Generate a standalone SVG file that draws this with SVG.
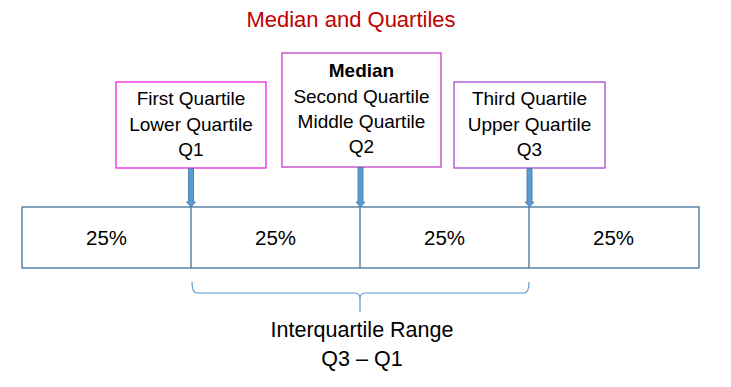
<svg xmlns="http://www.w3.org/2000/svg" width="731" height="387" viewBox="0 0 731 387">
<style>
  text { font-family: "Liberation Sans", Arial, sans-serif; fill: #000; text-anchor: middle; }
  .box { fill: #fff; stroke-width: 1.3; }
  .lbl { font-size: 19px; }
  .pct { font-size: 20.5px; }
  .iqr { font-size: 21.5px; }
  .bar { fill: #fff; stroke: #41719C; stroke-width: 1.3; }
  .arrow { fill: #5B9BD5; stroke: #41719C; stroke-width: 0.8; }
  .brace { fill: none; stroke: #5B9BD5; stroke-width: 1.2; }
</style>
<rect width="731" height="387" fill="#fff"/>
<text x="351" y="27" style="font-size:22px; fill:#C00000">Median and Quartiles</text>

<g id="bar">
  <rect class="bar" x="22" y="207" width="677" height="61"/>
  <line class="bar" x1="191" y1="207" x2="191" y2="268"/>
  <line class="bar" x1="360" y1="207" x2="360" y2="268"/>
  <line class="bar" x1="529" y1="207" x2="529" y2="268"/>
  <text class="pct" x="106.5" y="245">25%</text>
  <text class="pct" x="275.5" y="245">25%</text>
  <text class="pct" x="444.5" y="245">25%</text>
  <text class="pct" x="613.5" y="245">25%</text>
</g>

<g id="q1">
  <rect class="box" x="116" y="82" width="150" height="86" stroke="#EE22DD"/>
  <text class="lbl" x="191" y="105">First Quartile</text>
  <text class="lbl" x="191" y="131">Lower Quartile</text>
  <text class="lbl" x="191" y="156">Q1</text>
</g>

<g id="q2">
  <rect class="box" x="282" y="53" width="159" height="114" stroke="#C040C0"/>
  <text class="lbl" x="361.5" y="77" font-weight="bold">Median</text>
  <text class="lbl" x="361.5" y="103">Second Quartile</text>
  <text class="lbl" x="361.5" y="128">Middle Quartile</text>
  <text class="lbl" x="361.5" y="153">Q2</text>
</g>

<g id="q3">
  <rect class="box" x="454" y="82" width="151" height="86" stroke="#A44BD6"/>
  <text class="lbl" x="529.5" y="105">Third Quartile</text>
  <text class="lbl" x="529.5" y="131">Upper Quartile</text>
  <text class="lbl" x="529.5" y="156">Q3</text>
</g>

<g id="iqr">
  <text class="iqr" x="362" y="337">Interquartile Range</text>
  <text class="iqr" x="362" y="366">Q3 – Q1</text>
</g>

<g id="connectors">
  <path class="arrow" d="M188.5,168.5 H193.5 V202 H195.5 L191,207 L186.5,202 H188.5 Z"/>
  <path class="arrow" d="M358,167.5 H363 V202 H365 L360.5,207 L356,202 H358 Z"/>
  <path class="arrow" d="M527,168.5 H532 V202 H534 L529.5,207 L525,202 H527 Z"/>
  <path class="brace" d="M192,282 Q192,293 197,293 H355 Q360,293 360,299 V312 M360,299 Q360,293 365,293 H524 Q529,293 529,282"/>
</g>
</svg>
